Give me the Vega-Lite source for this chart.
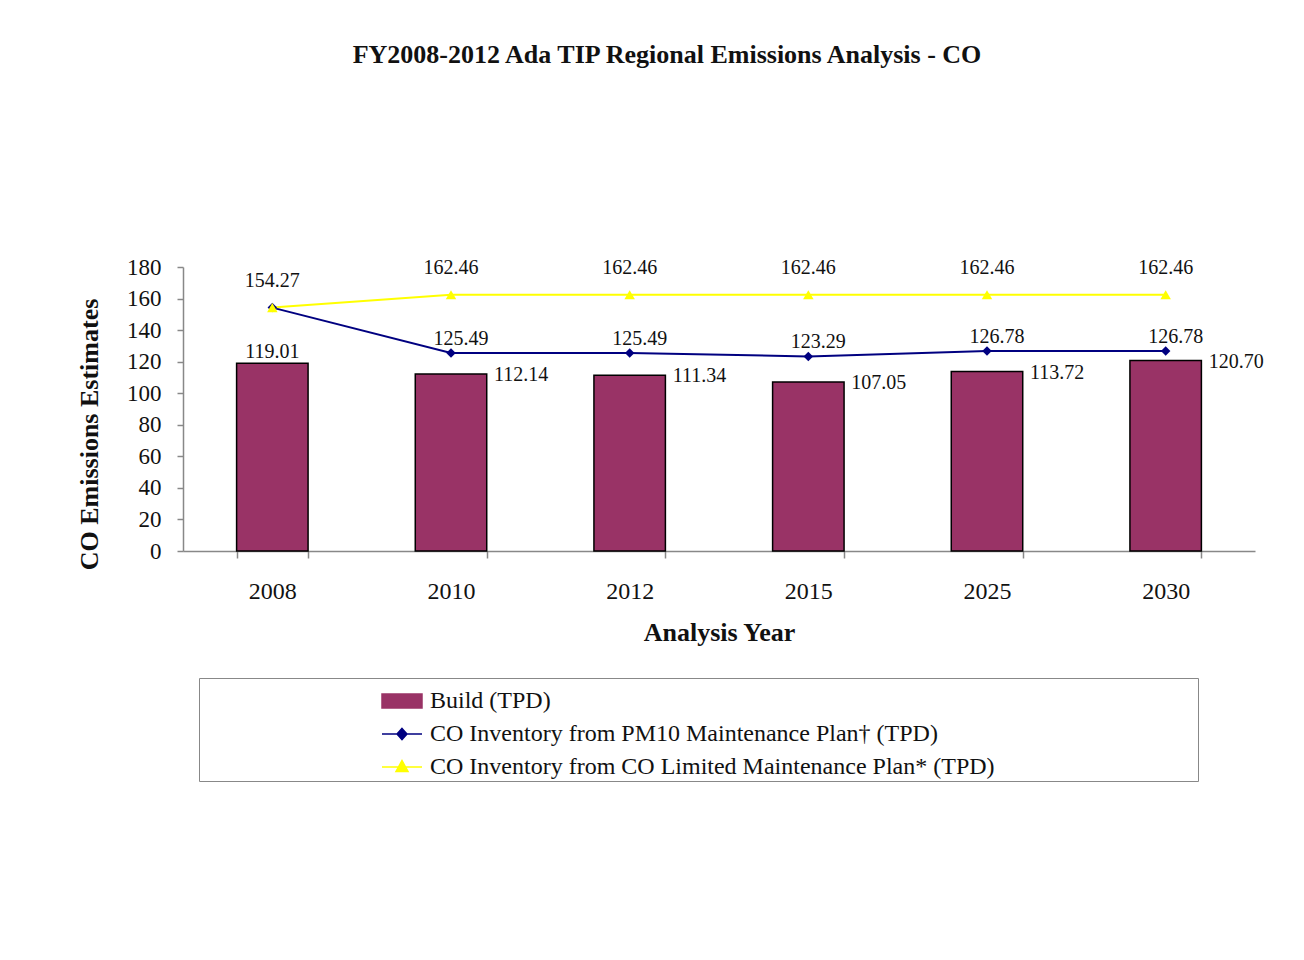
{
  "$schema": "https://vega.github.io/schema/vega-lite/v6.json",
  "width": 1072,
  "height": 284,
  "autosize": {"type": "none"},
  "padding": {"left": 183, "top": 267, "right": 49, "bottom": 409},
  "background": "white",
  "title": {
    "text": "FY2008-2012 Ada TIP Regional Emissions Analysis - CO",
    "font": "Liberation Serif",
    "fontSize": 26,
    "fontWeight": "bold",
    "color": "#111111",
    "offset": 188,
    "dx": -52,
    "anchor": "middle"
  },
  "config": {
    "view": {"stroke": null},
    "font": "Liberation Serif",
    "axis": {
      "labelFont": "Liberation Serif",
      "titleFont": "Liberation Serif",
      "labelColor": "#111111",
      "titleColor": "#111111",
      "domainColor": "#888888",
      "tickColor": "#888888",
      "domainWidth": 1.5,
      "tickWidth": 1.5,
      "grid": false
    }
  },
  "data": {
    "values": [
      {"year": "2008", "series": "Build (TPD)", "value": 119.01},
      {"year": "2010", "series": "Build (TPD)", "value": 112.14},
      {"year": "2012", "series": "Build (TPD)", "value": 111.34},
      {"year": "2015", "series": "Build (TPD)", "value": 107.05},
      {"year": "2025", "series": "Build (TPD)", "value": 113.72},
      {"year": "2030", "series": "Build (TPD)", "value": 120.70},
      {"year": "2008", "series": "CO Inventory from PM10 Maintenance Plan† (TPD)", "value": 154.27},
      {"year": "2010", "series": "CO Inventory from PM10 Maintenance Plan† (TPD)", "value": 125.49},
      {"year": "2012", "series": "CO Inventory from PM10 Maintenance Plan† (TPD)", "value": 125.49},
      {"year": "2015", "series": "CO Inventory from PM10 Maintenance Plan† (TPD)", "value": 123.29},
      {"year": "2025", "series": "CO Inventory from PM10 Maintenance Plan† (TPD)", "value": 126.78},
      {"year": "2030", "series": "CO Inventory from PM10 Maintenance Plan† (TPD)", "value": 126.78},
      {"year": "2008", "series": "CO Inventory from CO Limited Maintenance Plan* (TPD)", "value": 154.27},
      {"year": "2010", "series": "CO Inventory from CO Limited Maintenance Plan* (TPD)", "value": 162.46},
      {"year": "2012", "series": "CO Inventory from CO Limited Maintenance Plan* (TPD)", "value": 162.46},
      {"year": "2015", "series": "CO Inventory from CO Limited Maintenance Plan* (TPD)", "value": 162.46},
      {"year": "2025", "series": "CO Inventory from CO Limited Maintenance Plan* (TPD)", "value": 162.46},
      {"year": "2030", "series": "CO Inventory from CO Limited Maintenance Plan* (TPD)", "value": 162.46}
    ]
  },
  "encoding": {
    "x": {
      "field": "year",
      "type": "ordinal",
      "sort": null,
      "scale": {"paddingInner": 0.6, "paddingOuter": 0.3},
      "axis": {
        "title": "Analysis Year",
        "titleFontSize": 26,
        "titleFontWeight": "bold",
        "labelFontSize": 24,
        "labelAngle": 0,
        "tickBand": "extent",
        "tickSize": 7,
        "labelPadding": 21,
        "titlePadding": 16
      }
    },
    "y": {
      "field": "value",
      "type": "quantitative",
      "scale": {"domain": [0, 180], "nice": false},
      "axis": {
        "title": "CO Emissions Estimates",
        "titleFontSize": 26,
        "titleFontWeight": "bold",
        "labelFontSize": 23,
        "values": [0, 20, 40, 60, 80, 100, 120, 140, 160, 180],
        "tickSize": 6,
        "labelPadding": 16,
        "titlePadding": 24,
        "titleY": 167
      }
    }
  },
  "layer": [
    {
      "transform": [{"filter": "datum.series === 'Build (TPD)'"}],
      "mark": {"type": "bar", "color": "#993366", "stroke": "#000000", "strokeWidth": 1.5}
    },
    {
      "transform": [{"filter": "datum.series !== 'Build (TPD)'"}],
      "mark": {"type": "line", "strokeWidth": 2},
      "encoding": {
        "color": {
          "field": "series",
          "type": "nominal",
          "scale": {
            "domain": ["Build (TPD)", "CO Inventory from PM10 Maintenance Plan† (TPD)", "CO Inventory from CO Limited Maintenance Plan* (TPD)"],
            "range": ["#993366", "#000080", "#ffff00"]
          },
          "legend": {
            "orient": "none",
            "legendX": 16,
            "legendY": 411,
            "title": "\u2003",
            "titleOrient": "right",
            "titleFontSize": 10,
            "titlePadding": 201,
            "strokeColor": "#888888",
            "padding": 2,
            "symbolSize": 400,
            "symbolOffset": 180,
            "labelOffset": 7,
            "labelFont": "Liberation Serif",
            "labelFontSize": 24,
            "labelColor": "#111111",
            "labelLimit": 0,
            "rowPadding": 0,
            "encode": {
              "symbols": {
                "update": {
                  "shape": {"signal": "datum.value === 'Build (TPD)' ? 'M-1,-0.35H1V0.35H-1Z' : (datum.value === 'CO Inventory from PM10 Maintenance Plan† (TPD)' ? 'M-1,0H1M0,-0.28L0.25,0L0,0.28L-0.25,0Z' : 'M-1,0H1M0,-0.32L0.3,0.22L-0.3,0.22Z')"},
                  "size": {"value": 1600},
                  "fill": {"signal": "datum.value === 'Build (TPD)' ? '#993366' : (datum.value === 'CO Inventory from PM10 Maintenance Plan† (TPD)' ? '#000080' : '#ffff00')"},
                  "stroke": {"signal": "datum.value === 'Build (TPD)' ? '#000000' : (datum.value === 'CO Inventory from PM10 Maintenance Plan† (TPD)' ? '#000080' : '#ffff00')"},
                  "opacity": {"value": 1},
                  "fillOpacity": {"value": 1},
                  "strokeOpacity": {"value": 1}
                }
              }
            }
          }
        }
      }
    },
    {
      "transform": [{"filter": "datum.series === 'CO Inventory from PM10 Maintenance Plan† (TPD)'"}],
      "mark": {"type": "point", "filled": true, "size": 90, "opacity": 1, "shape": "diamond", "color": "#000080"}
    },
    {
      "transform": [{"filter": "datum.series === 'CO Inventory from CO Limited Maintenance Plan* (TPD)'"}],
      "mark": {"type": "point", "filled": true, "size": 110, "opacity": 1, "shape": "triangle-up", "color": "#ffff00"}
    },
    {
      "transform": [{"filter": "datum.series === 'Build (TPD)' && datum.year === '2008'"}],
      "mark": {"type": "text", "fontSize": 20, "font": "Liberation Serif", "color": "#111111", "baseline": "bottom", "dy": -1},
      "encoding": {"text": {"field": "value", "type": "quantitative", "format": ".2f"}}
    },
    {
      "transform": [{"filter": "datum.series === 'Build (TPD)' && datum.year !== '2008'"}],
      "mark": {"type": "text", "fontSize": 20, "font": "Liberation Serif", "color": "#111111", "align": "left", "baseline": "middle", "dx": 43, "dy": 1},
      "encoding": {"text": {"field": "value", "type": "quantitative", "format": ".2f"}}
    },
    {
      "transform": [{"filter": "datum.series === 'CO Inventory from PM10 Maintenance Plan† (TPD)' && datum.year !== '2008'"}],
      "mark": {"type": "text", "fontSize": 20, "font": "Liberation Serif", "color": "#111111", "baseline": "middle", "dx": 10, "dy": -14},
      "encoding": {"text": {"field": "value", "type": "quantitative", "format": ".2f"}}
    },
    {
      "transform": [{"filter": "datum.series === 'CO Inventory from CO Limited Maintenance Plan* (TPD)'"}],
      "mark": {"type": "text", "fontSize": 20, "font": "Liberation Serif", "color": "#111111", "baseline": "middle", "dy": -27},
      "encoding": {"text": {"field": "value", "type": "quantitative", "format": ".2f"}}
    }
  ]
}
